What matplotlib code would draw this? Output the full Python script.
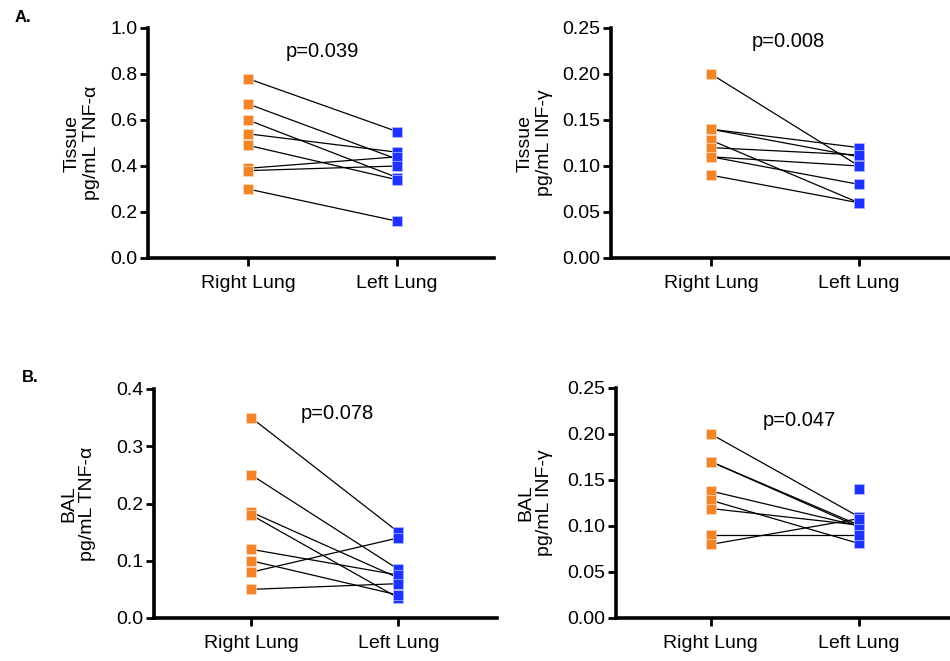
import numpy as np
import matplotlib.pyplot as plt

plt.rcParams['font.family'] = ['Liberation Sans', 'DejaVu Sans']

categories = ["Right Lung", "Left Lung"]

# A. tissue
tissue_tnf_right = [0.78, 0.67, 0.60, 0.54, 0.49, 0.39, 0.38, 0.30]
tissue_tnf_left = [0.55, 0.43, 0.35, 0.46, 0.34, 0.44, 0.40, 0.16]
tissue_inf_right = [0.20, 0.14, 0.14, 0.128, 0.12, 0.11, 0.11, 0.09]
tissue_inf_left = [0.10, 0.12, 0.11, 0.06, 0.112, 0.10, 0.08, 0.06]

# B. BAL
bal_tnf_right = [0.35, 0.25, 0.185, 0.18, 0.12, 0.10, 0.08, 0.05]
bal_tnf_left = [0.15, 0.085, 0.07, 0.035, 0.075, 0.04, 0.14, 0.06]
bal_inf_right = [0.20, 0.17, 0.17, 0.138, 0.128, 0.119, 0.09, 0.08, np.nan]
bal_inf_left = [0.11, 0.101, 0.099, 0.10, 0.081, 0.101, 0.09, 0.108, 0.14]

p_values = ["p=0.039", "p=0.008", "p=0.078", "p=0.047"]
ylabels = ["Tissue\npg/mL TNF-α", "Tissue\npg/mL INF-γ",
           "BAL\npg/mL TNF-α", "BAL\npg/mL INF-γ"]

ORANGE = "#f0852a"
BLUE = "#1e32ff"

fig = plt.figure(figsize=(9.5, 6.61), dpi=100)

W, H = 950, 661
panels = [
    # (left px, right px, bottom px, top px, xlim, ylim, yticks, fmt, ptext pos, ylabel x)
    (148, 494, 258, 28, (-0.671, 1.651), (0, 1.0), np.arange(0, 1.01, 0.2), "%.1f", (0.50, 0.896), -0.139),
    (611, 950, 258, 28, (-0.676, 1.615), (0, 0.25), np.arange(0, 0.251, 0.05), "%.2f", (0.52, 0.235), -0.171),
    (154, 497, 618, 389, (-0.66, 1.67), (0, 0.4), np.arange(0, 0.41, 0.1), "%.1f", (0.585, 0.358), -0.169),
    (616, 950, 618, 388, (-0.64, 1.615), (0, 0.25), np.arange(0, 0.251, 0.05), "%.2f", (0.60, 0.215), -0.189),
]
data = [(tissue_tnf_right, tissue_tnf_left), (tissue_inf_right, tissue_inf_left),
        (bal_tnf_right, bal_tnf_left), (bal_inf_right, bal_inf_left)]

for i, (l, r, b, t, xl, yl, yt, fmt, ppos, lx) in enumerate(panels):
    ax = fig.add_axes([l / W, 1 - b / H, (r - l) / W, (b - t) / H])
    right, left = data[i]
    for a, c in zip(right, left):
        if not np.isnan(a):
            ax.plot([0, 1], [a, c], color="black", lw=0.9, zorder=2, clip_on=False)
    ax.plot(np.zeros(len(right)), right, "s", color=ORANGE, ms=6.8, mec="#ffd9b8", mew=0.5,
            zorder=3, clip_on=False, ls="none")
    ax.plot(np.ones(len(left)), left, "s", color=BLUE, ms=6.8, mec="#b8c0ff", mew=0.5,
            zorder=3, clip_on=False, ls="none")
    ax.set_xlim(*xl)
    ax.set_ylim(*yl)
    ax.set_yticks(yt)
    ax.set_yticklabels([fmt % v for v in yt])
    ax.set_xticks([0, 1])
    ax.set_xticklabels(categories)
    for s in ["top", "right"]:
        ax.spines[s].set_visible(False)
    for s in ["left", "bottom"]:
        ax.spines[s].set_linewidth(2.6)
    ax.tick_params(axis="both", width=2, length=6, labelsize=14, pad=1.5)
    ax.tick_params(axis="x", pad=6)
    ax.set_ylabel(ylabels[i], fontsize=14, linespacing=1.15)
    ax.yaxis.set_label_coords(lx, 0.5)
    ax.text(ppos[0], ppos[1], p_values[i], ha="center", va="center", fontsize=14.5)

fig.text(15 / W, 1 - 18 / H, "A.", fontsize=12, fontweight="bold", ha="left", va="center")
fig.text(22 / W, 1 - 378 / H, "B.", fontsize=12, fontweight="bold", ha="left", va="center")

fig.savefig("out.png", dpi=100)
